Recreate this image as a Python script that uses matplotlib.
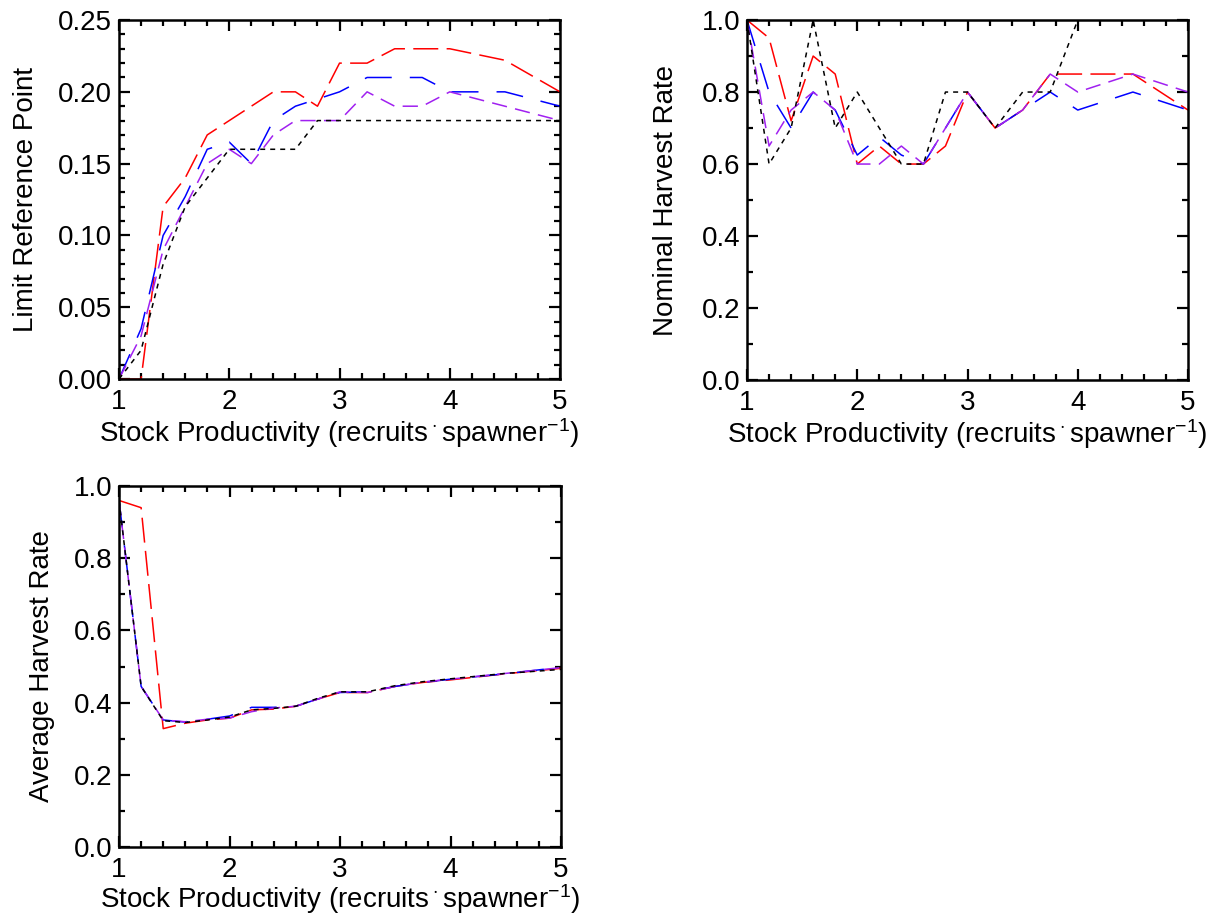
import numpy as np
import matplotlib
matplotlib.use("Agg")
import matplotlib.pyplot as plt
from matplotlib.ticker import MultipleLocator, FormatStrFormatter

plt.rcParams['font.family'] = ['Liberation Sans', 'DejaVu Sans']
plt.rcParams['mathtext.fontset'] = 'custom'
plt.rcParams['mathtext.rm'] = 'Liberation Sans'
plt.rcParams['mathtext.it'] = 'Liberation Sans'
plt.rcParams['mathtext.sf'] = 'Liberation Sans'
plt.rcParams['lines.scale_dashes'] = False

# ---- data ----
productivity = [1.0, 1.2, 1.4, 1.6, 1.8, 2.0, 2.2, 2.4, 2.6, 2.8, 3.0,
                3.25, 3.5, 3.75, 4.0, 4.5, 5.0]

lrp_red = [0.0, 0.0, 0.12, 0.14, 0.17, 0.18, 0.19, 0.20, 0.20, 0.19, 0.22,
           0.22, 0.23, 0.23, 0.23, 0.222, 0.20]
lrp_blue = [0.0, 0.035, 0.10, 0.127, 0.16, 0.165, 0.15, 0.18, 0.19, 0.195, 0.20,
            0.21, 0.21, 0.21, 0.20, 0.20, 0.19]
lrp_purple = [0.0, 0.03, 0.09, 0.12, 0.15, 0.16, 0.15, 0.17, 0.18, 0.18, 0.18,
              0.20, 0.19, 0.19, 0.20, 0.19, 0.18]
lrp_black = [0.0, 0.02, 0.08, 0.12, 0.14, 0.16, 0.16, 0.16, 0.16, 0.18, 0.18,
             0.18, 0.18, 0.18, 0.18, 0.18, 0.18]

nhr_red = [1.0, 0.95, 0.72, 0.90, 0.85, 0.60, 0.65, 0.60, 0.60, 0.65, 0.80,
           0.70, 0.75, 0.85, 0.85, 0.85, 0.75]
nhr_blue = [1.0, 0.80, 0.70, 0.80, 0.75, 0.625, 0.675, 0.625, 0.60, 0.70, 0.80,
            0.70, 0.75, 0.80, 0.75, 0.80, 0.75]
nhr_purple = [1.0, 0.65, 0.75, 0.80, 0.75, 0.60, 0.60, 0.65, 0.60, 0.70, 0.80,
              0.70, 0.75, 0.85, 0.80, 0.85, 0.80]
nhr_black = [1.0, 0.60, 0.70, 1.0, 0.70, 0.80, 0.70, 0.60, 0.60, 0.80, 0.80,
             0.70, 0.80, 0.80, 1.0, np.nan, np.nan]

ahr_red = [0.96, 0.94, 0.328, 0.343, 0.352, 0.357, 0.38, 0.382, 0.39, 0.41, 0.428,
           0.428, 0.445, 0.456, 0.463, 0.48, 0.495]
ahr_blue = [0.96, 0.445, 0.352, 0.346, 0.354, 0.363, 0.387, 0.387, 0.39, 0.41, 0.428,
            0.43, 0.445, 0.456, 0.465, 0.48, 0.498]
ahr_purple = [0.96, 0.445, 0.352, 0.347, 0.354, 0.357, 0.375, 0.385, 0.39, 0.41, 0.43,
              0.428, 0.445, 0.457, 0.465, 0.481, 0.497]
ahr_black = [0.96, 0.445, 0.35, 0.345, 0.352, 0.36, 0.38, 0.384, 0.39, 0.412, 0.43,
             0.43, 0.447, 0.458, 0.466, 0.481, 0.492]

xlabel = r'Stock Productivity (recruits$\,^{\cdot}\,$spawner$^{\mathregular{-1}}$)'

styles = [
    ('#ff0000', (0, (18, 6))),
    ('#0000ff', (0, (19.5, 13))),
    ('#a020f0', (0, (11, 6))),
    ('#000000', (0, (3.6, 3.6))),
]

FS = 20

fig = plt.figure(figsize=(12.22, 9.24), dpi=100)

def make_ax(rect, series, ylim, ymajor, yminor, yfmt, ylabel, ylab_x, xlab_y):
    ax = fig.add_axes(rect)
    for vals, (c, ls) in zip(series, styles):
        ax.plot(productivity, vals, color=c, linestyle=ls, lw=1.1)
    ax.set_xlim(1, 5)
    ax.set_ylim(*ylim)
    ax.xaxis.set_major_locator(MultipleLocator(1))
    ax.xaxis.set_minor_locator(MultipleLocator(0.2))
    ax.yaxis.set_major_locator(MultipleLocator(ymajor))
    ax.yaxis.set_minor_locator(MultipleLocator(yminor))
    ax.yaxis.set_major_formatter(FormatStrFormatter(yfmt))
    ax.tick_params(which='both', direction='in', top=True, right=True,
                   labelsize=FS, width=1.6)
    ax.tick_params(which='major', length=8)
    ax.tick_params(axis='x', which='major', pad=7.5)
    ax.tick_params(axis='y', which='major', pad=5)
    ax.tick_params(which='minor', length=4.5)
    for s in ax.spines.values():
        s.set_linewidth(1.8)
    ax.set_xlabel(xlabel, fontsize=FS, va='baseline')
    ax.set_ylabel(ylabel, fontsize=FS, va='baseline')
    ax.xaxis.set_label_coords(0.5, xlab_y)
    ax.yaxis.set_label_coords(ylab_x, 0.5)
    return ax

make_ax([0.0974, 0.5898, 0.3609, 0.3885],
        [lrp_red, lrp_blue, lrp_purple, lrp_black],
        (0, 0.25), 0.05, 0.01, '%.2f', 'Limit Reference Point', -0.195, -0.176)
make_ax([0.6113, 0.5887, 0.3609, 0.3896],
        [nhr_red, nhr_blue, nhr_purple, nhr_black],
        (0, 1.0), 0.2, 0.1, '%.1f', 'Nominal Harvest Rate', -0.168, -0.176)
make_ax([0.0974, 0.0833, 0.3617, 0.3907],
        [ahr_red, ahr_blue, ahr_purple, ahr_black],
        (0, 1.0), 0.2, 0.1, '%.1f', 'Average Harvest Rate', -0.158, -0.168)

fig.savefig('out.png', dpi=100)
